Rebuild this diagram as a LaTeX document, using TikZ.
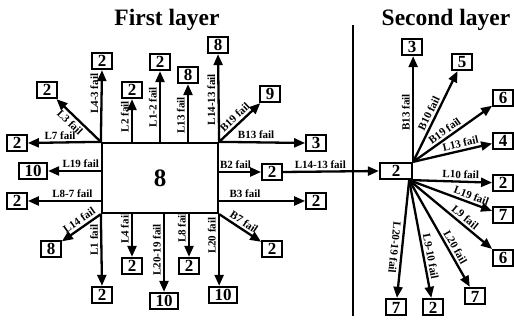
\documentclass[tikz,border=0pt]{standalone}
\usepackage{fontspec}
\setmainfont{Liberation Serif}
\usetikzlibrary{arrows.meta}
\begin{document}
\begin{tikzpicture}[x=1pt,y=-1pt,
  nb/.style={draw, line width=2.3pt, font=\bfseries\fontsize{17}{17}\selectfont, inner xsep=5.5pt, inner ysep=0pt, minimum height=16pt, text height=12pt, text depth=0pt},
  lab/.style={font=\bfseries\fontsize{11}{11}\selectfont, inner sep=2.2pt},
  vlab/.style={lab, rotate=90, anchor=south},
  arr/.style={line width=2.3pt, -{Triangle[length=11pt,width=9pt]}},
  ttl/.style={font=\bfseries\fontsize{23.5}{23.5}\selectfont}]
\useasboundingbox (0,0) rectangle (514,320);

\node[ttl] (t1) at (167,20) {First layer};
\node[ttl] (t2) at (446,20) {Second layer};

\node[draw, line width=2.3pt, minimum width=116pt, minimum height=70pt, font=\bfseries\fontsize{25}{25}\selectfont] (M) at (160,178) {8};

\node[nb] (a1) at (102,61) {2};
\node[nb] (a2) at (47,90) {2};
\node[nb] (a3) at (17,143) {2};
\node[nb] (a4) at (132,90) {2};
\node[nb] (a5) at (160,62) {2};
\node[nb] (a6) at (188,75) {8};
\node[nb] (a7) at (218,45) {8};
\node[nb] (a8) at (270,94) {9};
\node[nb] (a9) at (316,143) {3};
\node[nb] (a10) at (272,172) {2};
\node[nb] (a11) at (316,201) {2};
\node[nb] (a12) at (272,249) {2};
\node[nb] (a13) at (223,295) {10};
\node[nb] (a14) at (189,266) {2};
\node[nb] (a15) at (164,301) {10};
\node[nb] (a16) at (132,266) {2};
\node[nb] (a17) at (102,295) {2};
\node[nb] (a18) at (51,249) {8};
\node[nb] (a19) at (17,201) {2};
\node[nb] (a20) at (33,171) {10};

\draw[arr] (M.north west) -- node[vlab,pos=0.67]{L4-3 fail} (a1.south);
\draw[arr] (M.north west) -- node[lab,sloped,below,pos=0.58]{L3 fail} (a2);
\draw[arr] (M.north west) -- node[lab,above,pos=0.56]{L7 fail} (a3.east);
\draw[arr] (a4 |- M.north) -- node[vlab,pos=0.59]{L2 fail} (a4.south);
\draw[arr] (a5 |- M.north) -- node[vlab,pos=0.49]{L1-2 fail} (a5.south);
\draw[arr] (a6 |- M.north) -- node[vlab,pos=0.46]{L13 fail} (a6.south);
\draw[arr] (M.north east) -- node[vlab,pos=0.48]{L14-13 fail} (a7.south);
\draw[arr] (M.north east) -- node[lab,sloped,above,pos=0.5]{B19 fail} (a8);
\draw[arr] (M.north east) -- node[lab,above,pos=0.43]{B13 fail} (a9.west);
\draw[arr] (M.east |- a10) -- node[lab,above,pos=0.39]{B2 fail} (a10.west);
\draw[arr] (M.east |- a11) -- node[lab,above,pos=0.3]{B3 fail} (a11.west);
\draw[arr] (M.south east) -- node[lab,sloped,above,pos=0.5]{B7 fail} (a12);
\draw[arr] (M.south east) -- node[vlab,pos=0.3]{L20 fail} (M.south east |- a13.north);
\draw[arr] (a14 |- M.south) -- node[vlab,pos=0.31]{L8 fail} (a14.north);
\draw[arr] (a15 |- M.south) -- node[vlab,pos=0.46]{L20-19 fail} (a15.north);
\draw[arr] (a16 |- M.south) -- node[vlab,pos=0.33]{L4 fail} (a16.north);
\draw[arr] (M.south west) -- node[vlab,pos=0.36]{L1 fail} (a17.north);
\draw[arr] (M.south west) -- node[lab,sloped,above,pos=0.45]{L14 fail} (a18);
\draw[arr] (M.west |- a19) -- node[lab,above,pos=0.39]{L8-7 fail} (a19.east);
\draw[arr] (M.west |- a20) -- node[lab,above,pos=0.38]{L19 fail} (a20.east);

\coordinate (d1) at (353,25);
\coordinate (d2) at (353,316);
\draw[line width=2.3pt] (d1) -- (d2);

\node[nb, minimum width=32pt] (S) at (396,171) {2};
\coordinate (sB) at ([xshift=-4pt]S.south east);
\draw[arr] (a10.east) -- node[lab,above,pos=0.39]{L14-13 fail} (S.west);

\node[nb] (b1) at (412,47) {3};
\node[nb] (b2) at (462,62) {5};
\node[nb] (b3) at (503,98) {6};
\node[nb] (b4) at (503,141) {4};
\node[nb] (b5) at (503,183) {2};
\node[nb] (b6) at (503,215) {7};
\node[nb] (b7) at (503,258) {6};
\node[nb] (b8) at (475,296) {7};
\node[nb] (b9) at (433,307) {2};
\node[nb] (b10) at (396,307) {7};

\draw[arr] (S.north east) -- node[vlab,pos=0.47]{B13 fail} (S.north east |- b1.south);
\draw[arr] (S.north east) -- node[lab,sloped,above,pos=0.5]{B10 fail} (b2);
\draw[arr] (S.north east) -- node[lab,sloped,above,pos=0.45]{B19 fail} (b3);
\draw[arr] (S.north east) -- node[lab,sloped,above,pos=0.62]{L13 fail} (b4);
\draw[arr] (S.south east) -- node[lab,sloped,above,pos=0.6]{L10 fail} (b5);
\draw[arr] (sB) -- node[lab,sloped,above,pos=0.72]{L19 fail} (b6);
\draw[arr] (sB) -- node[lab,sloped,above,pos=0.62]{L9 fail} (b7);
\draw[arr] (sB) -- node[lab,sloped,above,pos=0.66]{L20 fail} (b8);
\draw[arr] (sB) -- node[lab,sloped,above,pos=0.66]{L9-10 fail} (b9);
\draw[arr] (sB) -- node[lab,sloped,allow upside down,below,pos=0.58]{L20-19 fail} (b10);
\end{tikzpicture}
\end{document}
